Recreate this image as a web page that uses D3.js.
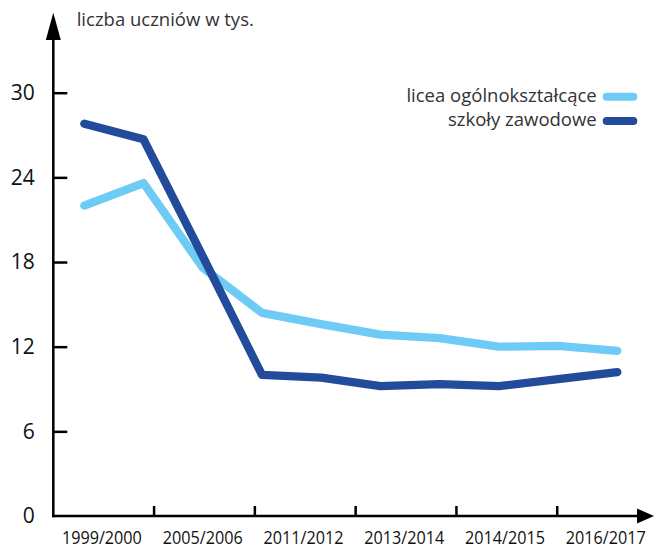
<!DOCTYPE html>
<html><head><meta charset="utf-8">
<script src="https://cdn.jsdelivr.net/npm/d3@7"></script>
<style>html,body{margin:0;padding:0;background:#fff;}svg{display:block;}</style>
</head><body>
<script>
// Data
const years = ["1999/2000","2002/2003","2005/2006","2008/2009","2011/2012","2012/2013","2013/2014","2014/2015","2015/2016","2016/2017"];
const licea = [22.0, 23.6, 17.6, 14.4, 13.6, 12.85, 12.6, 12.0, 12.05, 11.7];
const zawodowe = [27.8, 26.7, 18.4, 10.0, 9.8, 9.2, 9.35, 9.2, 9.7, 10.2];
const xLabels = ["1999/2000","2005/2006","2011/2012","2013/2014","2014/2015","2016/2017"];
const yTicks = [0, 6, 12, 18, 24, 30];
const seriesNames = ["licea ogólnokształcące", "szkoły zawodowe"];
const seriesColors = ["#6ecbf5", "#234b9b"];
const yTitle = "liczba uczniów w tys.";

const W = 654, H = 549;
const svg = d3.select("body").append("svg").attr("width", W).attr("height", H);
const axisX = 53.3, axisY = 516;
const font = "'Open Sans', sans-serif";

const y = d3.scaleLinear().domain([0, 30]).range([axisY, 92.7]);
const x = d3.scalePoint().domain(years).range([84.3, 617.3]);
const xb = d3.scaleBand().domain(xLabels).range([axisX, 658]);

// lines
const line = d3.line().x((d, i) => x(years[i])).y(d => y(d));
[licea, zawodowe].forEach((s, k) => {
  svg.append("path").datum(s).attr("d", line)
    .attr("fill", "none").attr("stroke", seriesColors[k])
    .attr("stroke-width", 8.3).attr("stroke-linejoin", "round").attr("stroke-linecap", "round");
});

// y axis
const yAxis = d3.axisLeft(y).tickValues(yTicks.filter(d => d > 0)).tickSizeInner(-14).tickSizeOuter(0).tickPadding(18.6);
const gy = svg.append("g").attr("transform", `translate(${axisX},0)`).call(yAxis);
gy.select(".domain").remove();
gy.selectAll(".tick line").attr("stroke", "#000").attr("stroke-width", 2.5);
gy.selectAll(".tick text").attr("font-family", font).attr("font-size", 21).attr("fill", "#111");
// zero label
svg.append("text").attr("x", axisX - 18.6).attr("y", y(0)).attr("dy", "0.32em").attr("text-anchor", "end")
  .attr("font-family", font).attr("font-size", 21).attr("fill", "#111").text(yTicks[0]);

// axis lines with arrows
svg.append("line").attr("x1", axisX).attr("x2", axisX).attr("y1", axisY + 1.2).attr("y2", 38)
  .attr("stroke", "#000").attr("stroke-width", 2.5);
svg.append("path").attr("d", `M${axisX - 7.5},40 L${axisX},12.7 L${axisX + 7.5},40 Z`).attr("fill", "#000");
svg.append("line").attr("x1", axisX - 1.2).attr("x2", 640).attr("y1", axisY).attr("y2", axisY)
  .attr("stroke", "#000").attr("stroke-width", 2.5);
svg.append("path").attr("d", `M637,${axisY - 7.5} L654,${axisY} L637,${axisY + 7.5} Z`).attr("fill", "#000");

// x ticks at band boundaries
svg.append("g").selectAll("line").data(xLabels.slice(1)).join("line")
  .attr("x1", d => xb(d)).attr("x2", d => xb(d)).attr("y1", axisY).attr("y2", axisY - 10)
  .attr("stroke", "#000").attr("stroke-width", 2.5);

// x labels
const xAxis = d3.axisBottom(xb).tickSize(0).tickPadding(0);
const gx = svg.append("g").attr("transform", `translate(-1.8,0)`).call(xAxis);
gx.select(".domain").remove();
gx.selectAll(".tick text").attr("y", 544).attr("dy", 0)
  .attr("font-family", font).attr("font-size", 19).attr("fill", "#111")
  .attr("textLength", 80).attr("lengthAdjust", "spacingAndGlyphs");

// title
svg.append("text").attr("x", 76.7).attr("y", 26).attr("font-family", font).attr("font-size", 18.5)
  .attr("fill", "#333").text(yTitle);

// legend
const legY = [101.7, 126];
seriesNames.forEach((n, k) => {
  svg.append("text").attr("x", 596.7).attr("y", legY[k]).attr("text-anchor", "end")
    .attr("font-family", font).attr("font-size", 18.5).attr("fill", "#333").text(n);
  svg.append("line").attr("x1", 606.7).attr("x2", 633.3).attr("y1", legY[k] - 5).attr("y2", legY[k] - 5)
    .attr("stroke", seriesColors[k]).attr("stroke-width", 8).attr("stroke-linecap", "round");
});
</script>
</body></html>
